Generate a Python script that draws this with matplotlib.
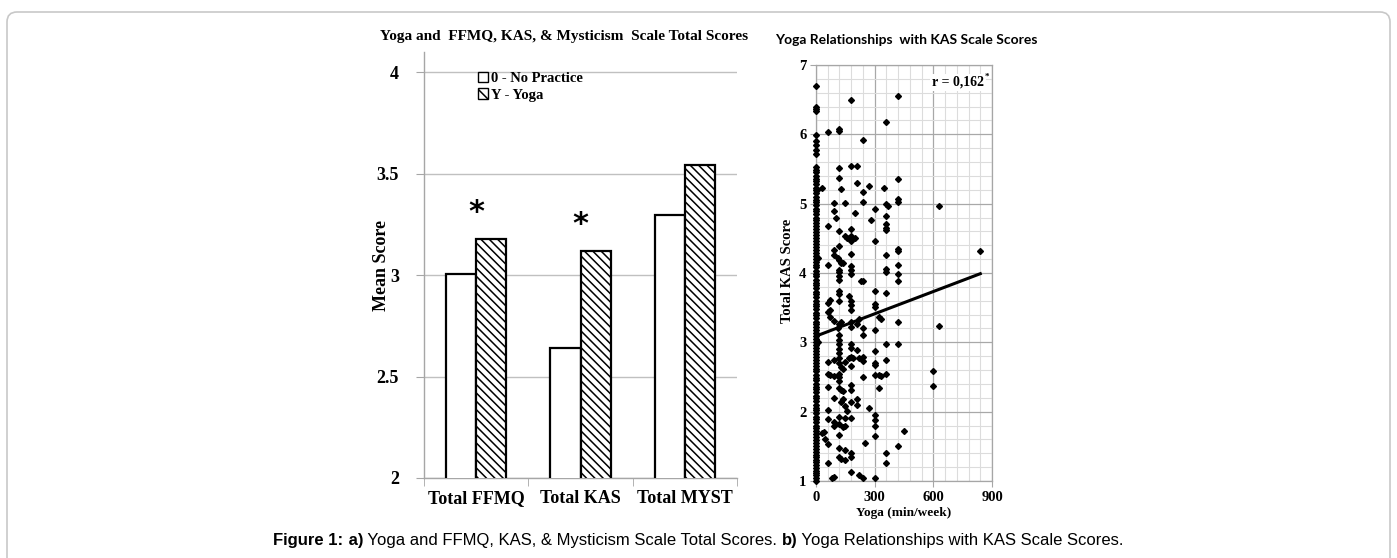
import matplotlib
matplotlib.use('Agg')
import matplotlib.pyplot as plt
import numpy as np
from matplotlib.patches import Patch, FancyBboxPatch
from matplotlib.transforms import IdentityTransform
from matplotlib.ticker import MultipleLocator

# --- panel a: mean scores ---
categories = ['Total FFMQ', 'Total KAS', 'Total MYST']
no_practice = [3.005, 2.64, 3.295]
yoga = [3.18, 3.12, 3.545]
significant = [True, True, False]
bar_ticks = [2, 2.5, 3, 3.5, 4]
bar_tick_labels = ['2', '2.5', '3', '3.5', '4']

# --- panel b: yoga minutes vs KAS score ---
# participants with no yoga (x = 0)
kas_no_yoga = [1.00, 1.04, 1.08, 1.12, 1.15, 1.19, 1.23, 1.27, 1.30, 1.34,
               1.38, 1.42, 1.46, 1.50, 1.55, 1.59, 1.63, 1.68, 1.72, 1.76,
               1.80, 1.85, 1.89, 1.93, 1.98, 2.02, 2.06, 2.10, 2.15, 2.19,
               2.23, 2.28, 2.32, 2.36, 2.40, 2.45, 2.49, 2.53, 2.58, 2.62,
               2.66, 2.70, 2.75, 2.79, 2.83, 2.88, 2.92, 2.96, 3.00, 3.05,
               3.09, 3.13, 3.18, 3.22, 3.26, 3.30, 3.35, 3.39, 3.43, 3.48,
               3.52, 3.56, 3.60, 3.65, 3.69, 3.73, 3.78, 3.82, 3.86, 3.90,
               3.95, 3.99, 4.03, 4.08, 4.12, 4.16, 4.20, 4.25, 4.29, 4.33,
               4.38, 4.42, 4.46, 4.50, 4.55, 4.59, 4.63, 4.68, 4.72, 4.76,
               4.80, 4.85, 4.89, 4.93, 4.98, 5.02, 5.06, 5.10, 5.15, 5.19,
               5.23, 5.28, 5.32, 5.36, 5.40, 5.45, 5.49, 5.53,
               5.72, 5.78, 5.85, 5.90, 5.99, 6.33, 6.36, 6.39, 6.70]

yoga_min = [180, 420, 360, 60, 120, 120, 240, 120, 180, 210,
            120, 420, 30, 130, 210, 270, 240, 350, 420, 420,
            240, 90, 150, 360, 370, 630, 90, 100, 200, 300,
            360, 280, 60, 360, 360, 360, 120, 180, 150, 160,
            180, 180, 200, 300, 120, 420, 420, 90, 90, 180,
            120, 130, 140, 110, 360, 840, 60, 180, 180, 120,
            360, 360, 420,
            120, 120, 120, 180, 420, 420, 230, 240, 120, 120,
            120, 60, 70, 170, 180, 180, 180, 300, 300, 300,
            360, 70, 60, 70, 90, 120, 130, 180, 180, 220,
            210, 240, 240, 320, 330, 420, 300, 630, 110, 120,
            120, 120, 120, 120, 180, 180, 210, 360, 420, 300,
            240, 60, 90, 120, 120, 150, 170, 180, 190, 220,
            240, 360, 300, 300, 600, 60, 70, 90, 120, 120,
            180, 130, 140, 240, 300, 320, 330, 360,
            120, 600, 60, 120, 130, 140, 180, 180, 320, 90,
            130, 140, 150, 160, 180, 210, 210, 270, 60, 60,
            90, 90, 120, 120, 120, 140, 150, 150, 180, 300,
            300, 300, 300, 450, 30, 40, 45, 60, 250, 420,
            120, 150, 180, 360, 120, 130, 150, 180, 60, 360,
            180, 220, 240, 80, 90, 300, 10, 10, 5]
yoga_kas = [6.50, 6.56, 6.18, 6.03, 6.08, 6.05, 5.92, 5.52, 5.54, 5.55,
            5.37, 5.35, 5.23, 5.21, 5.30, 5.25, 5.17, 5.22, 5.07, 5.02,
            5.03, 5.01, 5.01, 4.99, 4.96, 4.96, 4.90, 4.80, 4.86, 4.93,
            4.82, 4.77, 4.68, 4.71, 4.65, 4.62, 4.60, 4.63, 4.53, 4.51,
            4.54, 4.46, 4.51, 4.46, 4.39, 4.35, 4.32, 4.33, 4.26, 4.28,
            4.19, 4.15, 4.15, 4.22, 4.26, 4.32, 4.12, 4.10, 4.04, 4.05,
            4.06, 4.02, 4.12,
            4.02, 3.95, 3.90, 3.98, 3.98, 3.88, 3.88, 3.88, 3.74, 3.69,
            3.59, 3.57, 3.61, 3.67, 3.60, 3.54, 3.47, 3.74, 3.55, 3.51,
            3.71, 3.47, 3.44, 3.37, 3.31, 3.27, 3.30, 3.30, 3.22, 3.34,
            3.26, 3.20, 3.11, 3.37, 3.34, 3.30, 3.18, 3.23, 3.20, 3.11,
            3.04, 2.97, 2.90, 2.85, 2.97, 2.92, 2.89, 2.97, 2.97, 2.87,
            2.79, 2.72, 2.74, 2.77, 2.70, 2.72, 2.78, 2.79, 2.78, 2.77,
            2.73, 2.74, 2.70, 2.67, 2.58, 2.54, 2.53, 2.52, 2.54, 2.50,
            2.66, 2.64, 2.62, 2.50, 2.53, 2.53, 2.52, 2.54,
            2.44, 2.37, 2.35, 2.34, 2.31, 2.30, 2.39, 2.31, 2.34, 2.20,
            2.14, 2.18, 2.08, 2.01, 2.14, 2.18, 2.09, 2.06, 2.02, 1.89,
            1.85, 1.80, 1.93, 1.82, 1.67, 1.78, 1.80, 1.91, 1.91, 1.95,
            1.88, 1.80, 1.65, 1.72, 1.69, 1.71, 1.61, 1.53, 1.55, 1.51,
            1.47, 1.44, 1.41, 1.41, 1.35, 1.32, 1.30, 1.34, 1.26, 1.26,
            1.13, 1.09, 1.04, 1.04, 1.06, 1.05, 4.22, 3.00, 5.20]
fit_x = [0, 840]
fit_y = [3.09, 3.99]
r_label = 'r = 0,162'

SERIF = 'Liberation Serif'
GRAY = '#a6a6a6'

fig = plt.figure(figsize=(13.97, 5.58), dpi=100)

# ---------------- panel a ----------------
ax1 = fig.add_axes([0.3035, 0.1434, 0.2241, 0.7634])
x = np.arange(len(categories))
w = 0.29
ax1.bar(x - w / 2, no_practice, w, color='white', edgecolor='black', linewidth=1.6, zorder=3)
plt.rcParams['hatch.linewidth'] = 1.1
ax1.bar(x + w / 2, yoga, w, color='white', edgecolor='black', hatch='\\\\\\\\', linewidth=1.6, zorder=3)

for i, sig in enumerate(significant):
    if sig:
        ax1.text(x[i], yoga[i] + 0.13, '*', ha='center', va='center', fontsize=22,
                 fontweight='bold', family='DejaVu Sans', zorder=4)

ax1.set_xlim(-0.5, 2.5)
ax1.set_ylim(2, 4.1)
ax1.set_yticks(bar_ticks)
ax1.set_yticklabels(bar_tick_labels, family=SERIF, fontweight='bold', fontsize=13)
ax1.yaxis.grid(True, color='#c0c0c0', linewidth=1)
ax1.set_axisbelow(True)
ax1.set_xticks(x)
ax1.set_xticklabels(categories, family=SERIF, fontweight='bold', fontsize=13)
ax1.set_xticks([-0.5, 0.5, 1.5, 2.5], minor=True)
ax1.tick_params(axis='x', which='major', length=0, pad=9)
ax1.tick_params(axis='x', which='minor', length=6, color=GRAY, direction='out')
ax1.tick_params(axis='y', length=6, color=GRAY, pad=12)
for s in ['top', 'right']:
    ax1.spines[s].set_visible(False)
for s in ['left', 'bottom']:
    ax1.spines[s].set_color(GRAY)
    ax1.spines[s].set_linewidth(1)

handles = [Patch(facecolor='white', edgecolor='black', linewidth=1, label='0 - No Practice'),
           Patch(facecolor='white', edgecolor='black', linewidth=1, hatch='\\\\\\', label='Y - Yoga')]
ax1.legend(handles=handles, loc='upper left', bbox_to_anchor=(0.13, 0.985), frameon=False,
           handlelength=0.7, handleheight=0.7, handletextpad=0.2, labelspacing=0.25,
           prop={'family': SERIF, 'weight': 'bold', 'size': 10.5})

fig.text(0.2734, 0.525, 'Mean Score', rotation=90, ha='center', va='center',
         family=SERIF, fontweight='bold', fontsize=13)
fig.text(0.4037, 0.9337, 'Yoga and  FFMQ, KAS, & Mysticism  Scale Total Scores', ha='center',
         va='center', family=SERIF, fontweight='bold', fontsize=11)

# ---------------- panel b ----------------
ax2 = fig.add_axes([0.5841, 0.138, 0.126, 0.7455])
ax2.set_xlim(0, 900)
ax2.set_ylim(1, 7)
ax2.xaxis.set_major_locator(MultipleLocator(300))
ax2.xaxis.set_minor_locator(MultipleLocator(60))
ax2.yaxis.set_major_locator(MultipleLocator(1))
ax2.yaxis.set_minor_locator(MultipleLocator(0.2))
ax2.grid(True, which='minor', color='#dcdcdc', linewidth=0.8)
ax2.grid(True, which='major', color='#a8a8a8', linewidth=0.9)
ax2.set_axisbelow(True)
for s in ax2.spines.values():
    s.set_color(GRAY)
    s.set_linewidth(0.9)
ax2.tick_params(which='minor', length=0)
ax2.tick_params(which='major', length=4, color=GRAY, pad=3)
for lab in ax2.get_xticklabels() + ax2.get_yticklabels():
    lab.set_family(SERIF)
    lab.set_fontweight('bold')
    lab.set_fontsize(10.5)

ax2.plot([0] * len(kas_no_yoga), kas_no_yoga, 'D', color='black', markersize=3, clip_on=False, zorder=3)
ax2.plot(yoga_min, yoga_kas, 'D', color='black', markersize=3, clip_on=False, zorder=3)
ax2.plot(fit_x, fit_y, color='black', linewidth=2.2, zorder=4)

ax2.text(0.955, 0.958, r_label, transform=ax2.transAxes, ha='right', va='center', family=SERIF,
         fontweight='bold', fontsize=10, zorder=5,
         bbox=dict(facecolor='white', edgecolor='none', pad=1.5))
ax2.text(0.958, 0.972, '*', transform=ax2.transAxes, ha='left', va='center', family=SERIF,
         fontweight='bold', fontsize=6.5, zorder=6)

fig.text(0.5634, 0.514, 'Total KAS Score', rotation=90, ha='center', va='center',
         family=SERIF, fontweight='bold', fontsize=10.5)
fig.text(0.647, 0.08, 'Yoga (min/week)', ha='center', va='center',
         family=SERIF, fontweight='bold', fontsize=9.5)
fig.text(0.6485, 0.928, 'Yoga Relationships  with KAS Scale Scores', ha='center', va='center',
         family='Lato', fontweight='bold', fontsize=10)

# ---------------- frame and caption ----------------
frame = FancyBboxPatch((7, -40), 1383, 586, boxstyle='round,pad=0,rounding_size=10',
                       transform=IdentityTransform(), facecolor='none', edgecolor='#c8c8c8',
                       linewidth=1.2)
fig.add_artist(frame)

pieces = [('Figure 1:', 'bold'), (' a)', 'bold'),
          (' Yoga and FFMQ, KAS, & Mysticism Scale Total Scores. ', 'normal'),
          ('b)', 'bold'), (' Yoga Relationships with KAS Scale Scores.', 'normal')]
renderer = fig.canvas.get_renderer()
texts = []
for txt, wt in pieces:
    t = fig.text(0, 0.032, txt, ha='left', va='center', family='Liberation Sans',
                 fontweight=wt, fontsize=12)
    texts.append(t)
widths = [t.get_window_extent(renderer).width for t in texts]
start = (fig.bbox.width - sum(widths)) / 2
for t, wd in zip(texts, widths):
    t.set_x(start / fig.bbox.width)
    start += wd

fig.savefig('out.png', dpi=100)
